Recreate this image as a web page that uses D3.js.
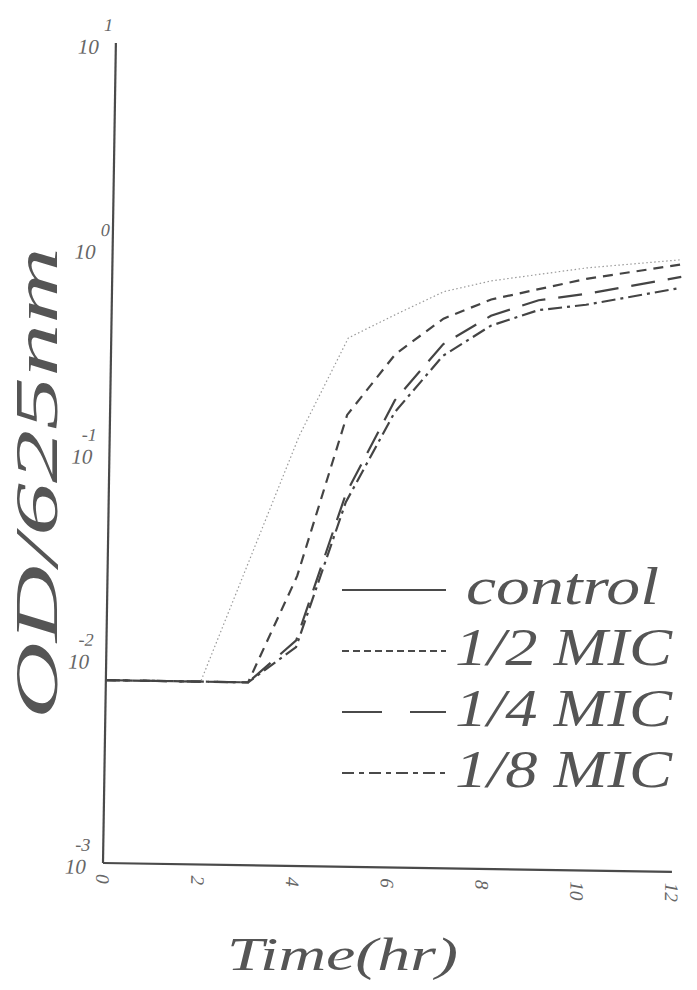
<!DOCTYPE html>
<html>
<head>
<meta charset="utf-8">
<script src="https://cdn.jsdelivr.net/npm/d3@7"></script>
<style>
    body { margin: 0; background: #fff; }
    .axis-line { stroke: #4a4a4a; stroke-width: 2.2; fill: none; }
    .tick-label { font-family: "Liberation Serif"; font-style: italic; fill: #666; }
    .title { font-family: "Liberation Serif"; font-style: italic; fill: #555; }
</style>
</head>
<body>
<script>
//growth data (OD at 625nm)
var controlHours = [0, 2, 4, 5, 6, 7, 8, 10, 12];
var controlOD = [0.0078, 0.0078, 0.126, 0.38, 0.50, 0.65, 0.74, 0.87, 0.97];

var halfHours = [0, 3, 4, 5, 6, 7, 8, 10, 12];
var halfOD = [0.0078, 0.0078, 0.026, 0.16, 0.32, 0.48, 0.60, 0.77, 0.92];

var quarterHours = [0, 3, 4, 5, 6, 7, 8, 9, 10, 12];
var quarterOD = [0.0078, 0.0078, 0.0126, 0.066, 0.19, 0.36, 0.50, 0.60, 0.65, 0.80];

var eighthHours = [0, 3, 4, 5, 6, 7, 8, 9, 10, 12];
var eighthOD = [0.0078, 0.0078, 0.0117, 0.060, 0.166, 0.316, 0.447, 0.537, 0.575, 0.708];

var xTicks = [0, 2, 4, 6, 8, 10, 12];
var yTicks = [0.001, 0.01, 0.1, 1, 10];
var yExponents = ["-3", "-2", "-1", "0", "1"];
var legendLabels = ["control", "1/2 MIC", "1/4 MIC", "1/8 MIC"];

window.onload = drawChart();

function drawChart(){

    var width = 697,
        height = 990;

    //corner of the axes in the scan
    var originX = 103,
        originY = 863;

    var svg = d3.select("body")
        .append("svg")
        .attr("width", width)
        .attr("height", height);

    svg.append("rect")
        .attr("width", width)
        .attr("height", height)
        .attr("fill", "#fff");

    var x = d3.scaleLinear()
        .domain([0, 12])
        .range([originX, 672]);

    var y = d3.scaleLog()
        .domain([0.001, 10])
        .range([originY, 43]);

    //the scanned plot is a little tilted
    var plot = svg.append("g")
        .attr("transform", "rotate(0.9," + originX + "," + originY + ")");

    var series = [
        {hours: controlHours, od: controlOD, dash: "1.5,2.5", color: "#9a9a9a", w: 1.2},
        {hours: halfHours, od: halfOD, dash: "10,7", color: "#444", w: 2.2},
        {hours: quarterHours, od: quarterOD, dash: "24,13", color: "#444", w: 2.2},
        {hours: eighthHours, od: eighthOD, dash: "14,5,3,5", color: "#444", w: 2.2}
    ];

    var line = d3.line()
        .x(function(d){ return x(d[0]); })
        .y(function(d){ return y(d[1]); });

    plot.selectAll(".curve")
        .data(series)
        .enter()
        .append("path")
        .attr("class", "curve")
        .attr("fill", "none")
        .attr("stroke", function(d){ return d.color; })
        .attr("stroke-width", function(d){ return d.w; })
        .attr("stroke-dasharray", function(d){ return d.dash; })
        .attr("d", function(d){ return line(d3.zip(d.hours, d.od)); });

    //axes lines
    plot.append("line")
        .attr("class", "axis-line")
        .attr("x1", originX).attr("y1", y(10))
        .attr("x2", originX).attr("y2", originY);
    plot.append("line")
        .attr("class", "axis-line")
        .attr("x1", originX).attr("y1", originY)
        .attr("x2", x(12)).attr("y2", originY);

    //x tick labels, written sideways
    plot.selectAll(".xlab")
        .data(xTicks)
        .enter()
        .append("text")
        .attr("class", "tick-label")
        .attr("font-size", 19)
        .attr("dominant-baseline", "central")
        .attr("transform", function(d){
            return "translate(" + x(d) + "," + (originY + 11) + ") rotate(90)";
        })
        .text(function(d){ return d; });

    //y tick labels as 10 with exponent
    var ylab = plot.selectAll(".ylab")
        .data(yTicks)
        .enter()
        .append("g")
        .attr("transform", function(d){ return "translate(0," + y(d) + ")"; });
    ylab.append("text")
        .attr("class", "tick-label")
        .attr("font-size", 21)
        .attr("text-anchor", "end")
        .attr("x", 86)
        .attr("y", 11)
        .text("10");
    ylab.append("text")
        .attr("class", "tick-label")
        .attr("font-size", 18)
        .attr("x", function(d, i){ return i < 3 ? 75 : 91; })
        .attr("y", -12)
        .text(function(d, i){ return yExponents[i]; });

    //axis titles
    svg.append("text")
        .attr("class", "title")
        .attr("font-size", 62)
        .attr("text-anchor", "middle")
        .attr("textLength", 472)
        .attr("lengthAdjust", "spacingAndGlyphs")
        .attr("transform", "translate(57,483) rotate(-90)")
        .text("OD/625nm");

    svg.append("text")
        .attr("class", "title")
        .attr("font-size", 47)
        .attr("x", 227)
        .attr("y", 970)
        .attr("textLength", 231)
        .attr("lengthAdjust", "spacingAndGlyphs")
        .text("Time(hr)");

    //legend
    var legendDash = [null, "7,4", "40,28", "12,5,5,5"];
    var legendWidth = [193, 217, 217, 217];
    var legend = svg.selectAll(".legend")
        .data(legendLabels)
        .enter()
        .append("g")
        .attr("transform", function(d, i){ return "translate(0," + (604 + i * 61) + ")"; });

    legend.append("line")
        .attr("x1", 342)
        .attr("x2", 446)
        .attr("y1", -14)
        .attr("y2", -14)
        .attr("stroke", "#4a4a4a")
        .attr("stroke-width", 2)
        .attr("stroke-dasharray", function(d, i){ return legendDash[i]; });

    legend.append("text")
        .attr("class", "title")
        .attr("font-size", 53)
        .attr("x", function(d, i){ return i == 0 ? 466 : 455; })
        .attr("textLength", function(d, i){ return legendWidth[i]; })
        .attr("lengthAdjust", "spacingAndGlyphs")
        .text(function(d){ return d; });
};
</script>
</body>
</html>
